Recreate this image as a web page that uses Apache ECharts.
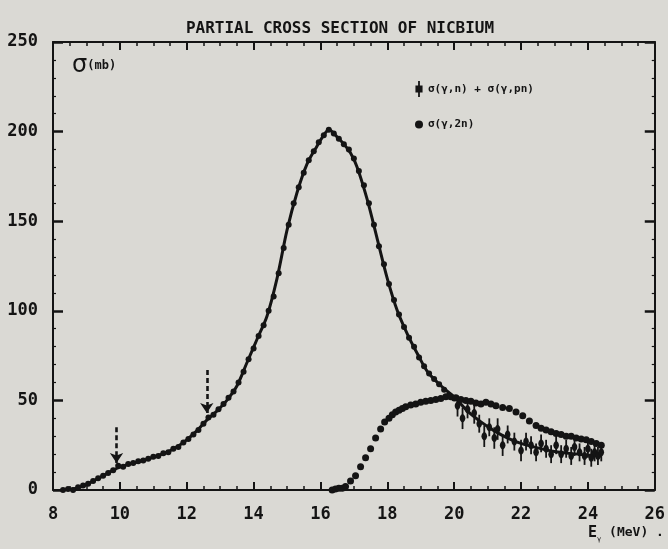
<!DOCTYPE html>
<html>
<head>
<meta charset="utf-8">
<script src="https://cdn.jsdelivr.net/npm/echarts@6/dist/echarts.min.js"></script>
<style>
html,body{margin:0;padding:0;background:#dad9d4;}
#chart{width:668px;height:549px;}
</style>
</head>
<body>
<div id="chart"></div>
<script>
// ---- data ----
const titleText = 'PARTIAL CROSS SECTION OF NICBIUM';
const xTicks = [8, 10, 12, 14, 16, 18, 20, 22, 24, 26];
const yTicks = [0, 50, 100, 150, 200, 250];

// fitted curve for sigma(g,n)+sigma(g,pn)
const fitE = [8.3, 8.7, 9.0, 9.3, 9.6, 9.9, 10.2, 10.5, 10.8, 11.1, 11.4, 11.7, 12.0, 12.3, 12.6, 12.9, 13.2, 13.5, 13.8, 14.1, 14.4, 14.7, 15.0, 15.3, 15.6, 15.9, 16.1, 16.25, 16.5, 16.7, 16.9, 17.1, 17.4, 17.7, 18.0, 18.3, 18.6, 18.9, 19.2, 19.5, 19.8, 20.1, 20.4, 20.8, 21.2, 21.6, 22.0, 22.5, 23.0, 23.5, 24.0, 24.4];
const fitV = [0, 1, 3, 6, 9, 12, 14, 15.5, 17, 19, 21, 24, 28, 33, 39, 44, 50, 58, 71, 84, 97, 118, 145, 166, 182, 192, 198, 201, 197, 193, 188, 180, 162, 140, 118, 100, 87, 76, 66, 60, 55, 50, 44, 38, 33, 29, 26, 23.5, 21.5, 20.3, 19.5, 19];

// measured points sigma(g,n)+sigma(g,pn), below 20 MeV
const npE = [8.3, 8.45, 8.6, 8.75, 8.9, 9.05, 9.2, 9.35, 9.5, 9.65, 9.8, 9.95, 10.1, 10.25, 10.4, 10.55, 10.7, 10.85, 11.0, 11.15, 11.3, 11.45, 11.6, 11.75, 11.9, 12.05, 12.2, 12.35, 12.5, 12.65, 12.8, 12.95, 13.1, 13.25, 13.4, 13.55, 13.7, 13.85, 14.0, 14.15, 14.3, 14.45, 14.6, 14.75, 14.9, 15.05, 15.2, 15.35, 15.5, 15.65, 15.8, 15.95, 16.1, 16.25, 16.4, 16.55, 16.7, 16.85, 17.0, 17.15, 17.3, 17.45, 17.6, 17.75, 17.9, 18.05, 18.2, 18.35, 18.5, 18.65, 18.8, 18.95, 19.1, 19.25, 19.4, 19.55, 19.7, 19.85, 20.0];
const npV = [0, 0.5, 0, 1.5, 2.5, 3.5, 5, 6.5, 8, 9.5, 11, 13.5, 13, 14.5, 15, 16, 16.5, 17.5, 18.5, 19, 20.5, 21, 23, 24, 26.5, 28.5, 31, 33.5, 37, 40.5, 42, 45, 48, 51.5, 55, 60, 66, 73, 79, 86, 92, 100, 108, 121, 135, 148, 160, 169, 177, 184, 189, 194, 198, 201, 199, 196, 193, 190, 185, 178, 170, 160, 148, 136, 126, 115, 106, 98, 91, 85, 80, 74, 69, 65, 62, 59, 56, 53, 51];

// points with error bars above 20 MeV
const ebE = [20.1, 20.25, 20.4, 20.6, 20.75, 20.9, 21.05, 21.2, 21.3, 21.45, 21.6, 21.8, 22.0, 22.15, 22.3, 22.45, 22.6, 22.75, 22.9, 23.05, 23.2, 23.35, 23.5, 23.6, 23.75, 23.9, 24.0, 24.1, 24.2, 24.3, 24.4];
const ebV = [47, 40, 45, 43, 37, 30, 35, 29, 34, 25, 31, 27, 22, 27, 25, 21, 26, 23, 20, 25, 20, 23, 19, 24, 21, 19, 23, 18, 21, 19, 21];
const ebErr = [6, 6, 5, 6, 5, 6, 5, 6, 6, 6, 5, 5, 6, 5, 5, 5, 5, 5, 5, 5, 5, 5, 5, 5, 5, 5, 5, 5, 5, 5, 5];

// sigma(g,2n)
const n2E = [16.35, 16.45, 16.55, 16.65, 16.75, 16.9, 17.05, 17.2, 17.35, 17.5, 17.65, 17.8, 17.92, 18.05, 18.15, 18.25, 18.35, 18.45, 18.55, 18.7, 18.85, 19.0, 19.15, 19.3, 19.45, 19.6, 19.75, 19.9, 20.05, 20.2, 20.35, 20.5, 20.65, 20.8, 20.95, 21.1, 21.25, 21.45, 21.65, 21.85, 22.05, 22.25, 22.45, 22.6, 22.75, 22.9, 23.05, 23.2, 23.35, 23.5, 23.65, 23.8, 23.95, 24.1, 24.25, 24.4];
const n2V = [0, 0.5, 1, 1, 2, 5, 8, 13, 18, 23, 29, 34, 38, 40, 42, 43.5, 44.5, 45.5, 46.5, 47.5, 48, 49, 49.5, 50, 50.5, 51, 52, 52, 51.5, 50.5, 50, 49.5, 48.5, 48, 49, 48, 47, 46, 45.5, 43.5, 41.5, 38.5, 36, 34.5, 33.5, 32.5, 31.5, 31, 30, 30, 29, 28.5, 28, 27, 26, 25];

// dashed arrows (threshold marks)
const arrowE = [9.9, 12.6];
const arrowFrom = [35, 67];
const arrowTo = [15, 43];

const nameNP = 'σ(γ,n) + σ(γ,pn)';
const name2N = 'σ(γ,2n)';

// ---- chart ----
const ink = '#141414';
const mono = 'DejaVu Sans Mono';
const chart = echarts.init(document.getElementById('chart'));

const axisCommon = {
  min: 8, max: 26, interval: 2,
  axisLine: {show: true, onZero: false, lineStyle: {color: ink, width: 2}},
  axisTick: {show: true, inside: true, length: 8, lineStyle: {color: ink, width: 2}},
  minorTick: {show: true, splitNumber: 4, length: 4, lineStyle: {color: ink, width: 1.5}},
  splitLine: {show: false}
};
const yCommon = {
  min: 0, max: 250, interval: 50,
  axisLine: {show: true, onZero: false, lineStyle: {color: ink, width: 2}},
  axisTick: {show: true, inside: true, length: 10, lineStyle: {color: ink, width: 2.5}},
  minorTick: {show: true, splitNumber: 5, length: 3, lineStyle: {color: ink, width: 1.2}},
  splitLine: {show: false}
};

const option = {
  backgroundColor: '#dad9d4',
  animation: false,
  grid: {left: 53, right: 12, top: 42, bottom: 59},
  legend: {
    orient: 'vertical',
    left: 410, top: 76,
    itemGap: 22,
    itemWidth: 8, itemHeight: 16,
    textStyle: {fontFamily: mono, fontWeight: 'bold', fontSize: 11, color: ink},
    data: [
      {name: nameNP, icon: 'path://M3,0H5V5H8V13H5V18H3V13H0V5H3Z'},
      {name: name2N, icon: 'circle'}
    ]
  },
  xAxis: [
    Object.assign({type: 'value', position: 'bottom',
      axisLabel: {show: true, margin: 16, fontFamily: mono, fontWeight: 'bold', fontSize: 17, color: ink,
        formatter: v => xTicks.includes(v) ? String(v) : ''}}, axisCommon),
    Object.assign({type: 'value', position: 'top', axisLabel: {show: false}}, axisCommon)
  ],
  yAxis: [
    Object.assign({type: 'value', position: 'left',
      axisLabel: {show: true, margin: 15, fontFamily: mono, fontWeight: 'bold', fontSize: 17, color: ink,
        formatter: v => yTicks.includes(v) ? String(v) : ''}}, yCommon),
    Object.assign({type: 'value', position: 'right', axisLabel: {show: false}}, yCommon)
  ],
  graphic: [
    {type: 'text', x: 340, y: 29, style: {text: titleText, align: 'center', verticalAlign: 'middle',
      font: 'bold 16px "DejaVu Sans Mono"', fill: ink}},
    {type: 'text', x: 72, y: 66, style: {
      text: '{s|σ}{u|(mb)}', verticalAlign: 'middle',
      rich: {s: {fontFamily: 'DejaVu Sans', fontSize: 24, fill: ink, fontWeight: 'normal'},
             u: {fontFamily: mono, fontSize: 12, fontWeight: 'bold', fill: ink}}}},
    {type: 'text', x: 588, y: 533, style: {
      text: '{e|E}{g|γ}{u| (MeV) .}', verticalAlign: 'middle',
      rich: {e: {fontFamily: mono, fontSize: 15, fontWeight: 'bold', fill: ink},
             g: {fontFamily: mono, fontSize: 7, fill: ink, padding: [12, 0, 0, 0]},
             u: {fontFamily: mono, fontSize: 13, fontWeight: 'bold', fill: ink}}}}
  ],
  series: [
    {
      name: 'fit', type: 'line', smooth: 0.3, showSymbol: false, silent: true,
      data: fitE.map((e, i) => [e, fitV[i]]),
      lineStyle: {color: ink, width: 3},
      z: 2,
      markLine: {
        silent: true, symbol: ['none', 'arrow'], symbolSize: 10,
        label: {show: false},
        emphasis: {disabled: true},
        lineStyle: {color: ink, width: 2.6, type: [5, 3]},
        data: arrowE.map((e, i) => [{coord: [e, arrowFrom[i]]}, {coord: [e, arrowTo[i]]}])
      }
    },
    {
      name: nameNP, type: 'scatter', symbol: 'circle', symbolSize: 6,
      itemStyle: {color: ink, opacity: 1},
      data: npE.map((e, i) => [e, npV[i]]),
      z: 3
    },
    {
      name: nameNP, type: 'custom',
      itemStyle: {color: ink, opacity: 1},
      data: ebE.map((e, i) => [e, ebV[i], ebErr[i]]),
      renderItem: function (params, api) {
        const x = api.value(0), y = api.value(1), er = api.value(2);
        const p = api.coord([x, y]);
        const hi = api.coord([x, y + er]);
        const lo = api.coord([x, y - er]);
        return {type: 'group', children: [
          {type: 'line', shape: {x1: p[0], y1: hi[1], x2: p[0], y2: lo[1]}, style: {stroke: ink, lineWidth: 1.8}},
          {type: 'ellipse', shape: {cx: p[0], cy: p[1], rx: 2.8, ry: 4}, style: {fill: ink}}
        ]};
      },
      z: 3
    },
    {
      name: name2N, type: 'scatter', symbol: 'circle', symbolSize: 7,
      itemStyle: {color: ink, opacity: 1},
      data: n2E.map((e, i) => [e, n2V[i]]),
      z: 3
    }
  ]
};
chart.setOption(option);
</script>
</body>
</html>
